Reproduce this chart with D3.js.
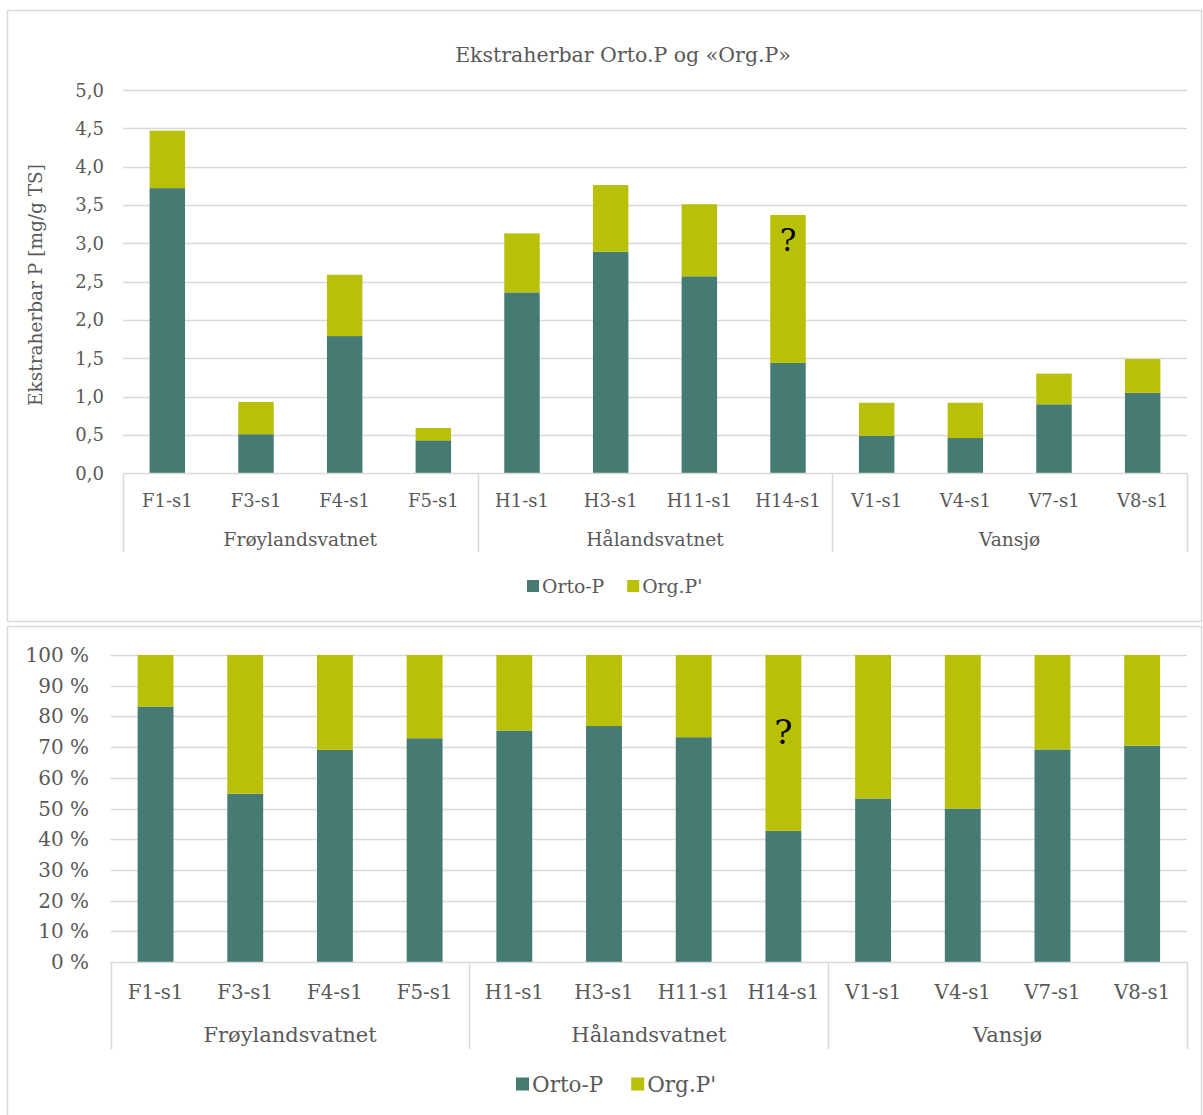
<!DOCTYPE html>
<html>
<head>
<meta charset="utf-8">
<script src="https://cdn.jsdelivr.net/npm/d3@7"></script>
<style>
  html, body { margin: 0; padding: 0; background: #fff; }
  svg { display: block; }
  text { font-family: "DejaVu Serif", "Liberation Serif", serif; fill: #595959; }
</style>
</head>
<body>
<svg id="chart" width="1203" height="1115"></svg>
<script>
// ---------- data ----------
const categories = ["F1-s1","F3-s1","F4-s1","F5-s1","H1-s1","H3-s1","H11-s1","H14-s1","V1-s1","V4-s1","V7-s1","V8-s1"];
const groups = ["Frøylandsvatnet","Hålandsvatnet","Vansjø"];
const groupSize = [4, 4, 4];
const ortoP = [3.72, 0.51, 1.79, 0.43, 2.36, 2.89, 2.57, 1.44, 0.49, 0.46, 0.90, 1.05];
const orgP  = [0.75, 0.42, 0.80, 0.16, 0.77, 0.87, 0.94, 1.93, 0.43, 0.46, 0.40, 0.44];
const seriesNames = ["Orto-P", "Org.P'"];
const seriesColors = ["#467b73", "#b8c107"];
const absTicks = [0, 0.5, 1.0, 1.5, 2.0, 2.5, 3.0, 3.5, 4.0, 4.5, 5.0];
const pctTicks = [0, 0.1, 0.2, 0.3, 0.4, 0.5, 0.6, 0.7, 0.8, 0.9, 1.0];
const title = "Ekstraherbar Orto.P og «Org.P»";
const yTitle = "Ekstraherbar P [mg/g TS]";
const noteLabel = "?";
const noteCategory = "H14-s1";

const rows = categories.map((c, i) => ({ cat: c, "Orto-P": ortoP[i], "Org.P'": orgP[i] }));

const svg = d3.select("#chart");
const grid = "#d9d9d9";

// panels
svg.append("rect").attr("x", 7.5).attr("y", 10.5).attr("width", 1194).attr("height", 611)
  .attr("fill", "none").attr("stroke", grid).attr("stroke-width", 1.5);
svg.append("rect").attr("x", 7.5).attr("y", 626.5).attr("width", 1194).attr("height", 500)
  .attr("fill", "none").attr("stroke", grid).attr("stroke-width", 1.5);

function drawChart(cfg) {
  const g = svg.append("g");
  const x = d3.scaleBand().domain(categories).range([cfg.x0, cfg.x1]).padding(0);
  const y = d3.scaleLinear().domain(cfg.domain).range([cfg.yBottom, cfg.yTop]);
  const stack = d3.stack().keys(seriesNames);
  if (cfg.expand) stack.offset(d3.stackOffsetExpand);
  const series = stack(rows);

  // gridlines
  g.append("g").selectAll("line").data(cfg.ticks.slice(1)).join("line")
    .attr("x1", cfg.x0).attr("x2", cfg.x1)
    .attr("y1", d => Math.round(y(d)) + 0.5).attr("y2", d => Math.round(y(d)) + 0.5)
    .attr("stroke", grid).attr("stroke-width", 1.3);

  // y tick labels
  g.append("g").selectAll("text").data(cfg.ticks).join("text")
    .attr("x", cfg.tickX).attr("y", d => y(d))
    .attr("text-anchor", "end").attr("dominant-baseline", "central")
    .style("font-size", cfg.tickFont + "px")
    .text(cfg.tickFmt);

  // bars
  const bw = x.bandwidth() * 0.4;
  series.forEach((s, si) => {
    g.append("g").selectAll("rect").data(s).join("rect")
      .attr("x", (d, i) => x(categories[i]) + (x.bandwidth() - bw) / 2)
      .attr("width", bw)
      .attr("y", d => y(d[1]))
      .attr("height", d => y(d[0]) - y(d[1]))
      .attr("fill", seriesColors[si]);
  });

  // axis baseline
  g.append("line").attr("x1", cfg.x0).attr("x2", cfg.x1)
    .attr("y1", Math.round(y(0)) + 0.5).attr("y2", Math.round(y(0)) + 0.5)
    .attr("stroke", grid).attr("stroke-width", 1.5);

  // category labels
  g.append("g").selectAll("text").data(categories).join("text")
    .attr("x", d => x(d) + x.bandwidth() / 2).attr("y", cfg.catY)
    .attr("text-anchor", "middle").attr("dominant-baseline", "central")
    .style("font-size", cfg.catFont + "px").text(d => d);

  // group separators and labels
  let idx = 0;
  const bounds = [0];
  groupSize.forEach(n => { idx += n; bounds.push(idx); });
  g.append("g").selectAll("line").data(bounds).join("line")
    .attr("x1", b => Math.round(b === categories.length ? cfg.x1 : x(categories[b])) + 0.5)
    .attr("x2", b => Math.round(b === categories.length ? cfg.x1 : x(categories[b])) + 0.5)
    .attr("y1", y(0)).attr("y2", cfg.sepBottom)
    .attr("stroke", grid).attr("stroke-width", 1.5);
  g.append("g").selectAll("text").data(groups).join("text")
    .attr("x", (d, i) => {
      const a = x(categories[bounds[i]]);
      const b = bounds[i + 1] === categories.length ? cfg.x1 : x(categories[bounds[i + 1]]);
      return (a + b) / 2;
    })
    .attr("y", cfg.groupY)
    .attr("text-anchor", "middle").attr("dominant-baseline", "central")
    .style("font-size", cfg.groupFont + "px").text(d => d);

  // annotation
  g.append("text")
    .attr("x", x(noteCategory) + x.bandwidth() / 2)
    .attr("y", y(cfg.noteVal))
    .attr("text-anchor", "middle")
    .style("font-size", cfg.noteFont + "px").style("fill", "#000")
    .text(noteLabel);

  // legend
  const leg = g.append("g");
  let lx = cfg.legX;
  seriesNames.forEach((n, i) => {
    leg.append("rect").attr("x", lx).attr("y", cfg.legY - cfg.legSq / 2)
      .attr("width", cfg.legSq).attr("height", cfg.legSq).attr("fill", seriesColors[i]);
    const t = leg.append("text").attr("x", lx + cfg.legSq + 3).attr("y", cfg.legY)
      .attr("dominant-baseline", "central").style("font-size", cfg.legFont + "px").text(n);
    lx = lx + cfg.legSq + 3 + t.node().getComputedTextLength() + cfg.legGap;
  });

  return { x, y };
}

// top chart
svg.append("text").attr("x", 623).attr("y", 55)
  .attr("text-anchor", "middle").attr("dominant-baseline", "central")
  .style("font-size", "20.5px").text(title);
svg.append("text")
  .attr("transform", "translate(35,285) rotate(-90)")
  .attr("text-anchor", "middle").attr("dominant-baseline", "central")
  .style("font-size", "18.5px").text(yTitle);

drawChart({
  x0: 123, x1: 1187, yBottom: 473.3, yTop: 90, domain: [0, 5], ticks: absTicks,
  tickX: 104, tickFont: 18, tickFmt: d => d3.format(".1f")(d).replace(".", ","),
  catY: 500, catFont: 18, groupY: 539, groupFont: 18.6, sepBottom: 552,
  noteVal: 2.9, noteFont: 31,
  legX: 527, legY: 586, legSq: 12, legFont: 18.8, legGap: 23, expand: false
});

// bottom chart
drawChart({
  x0: 110.7, x1: 1187, yBottom: 962, yTop: 655, domain: [0, 1], ticks: pctTicks,
  tickX: 89, tickFont: 20, tickFmt: d => Math.round(d * 100) + " %",
  catY: 992, catFont: 19.8, groupY: 1035, groupFont: 21, sepBottom: 1049,
  noteVal: 0.71, noteFont: 34,
  legX: 516, legY: 1084, legSq: 13, legFont: 21.5, legGap: 28, expand: true
});
</script>
</body>
</html>
